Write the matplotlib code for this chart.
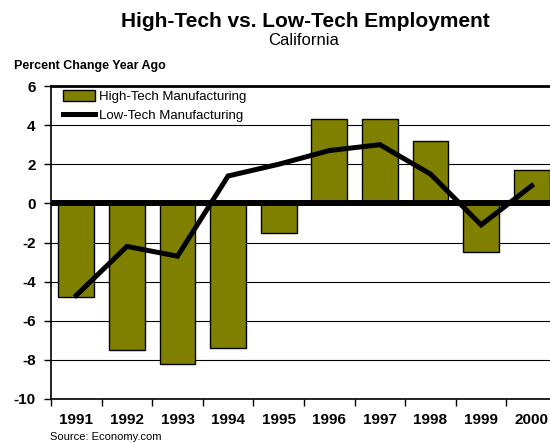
import numpy as np
import matplotlib
matplotlib.use("Agg")
import matplotlib.pyplot as plt

# dados
anos = ["1991", "1992", "1993", "1994", "1995", "1996", "1997", "1998", "1999", "2000"]
high_tech = [-4.8, -7.5, -8.2, -7.4, -1.5, 4.3, 4.3, 3.2, -2.5, 1.7]
low_tech = [-4.7, -2.2, -2.7, 1.4, 2.0, 2.7, 3.0, 1.5, -1.1, 0.9]

plt.rcParams["font.family"] = ["Liberation Sans", "DejaVu Sans"]

fig = plt.figure(figsize=(5.5, 4.43), dpi=100)
# o eixo passa um pouco da borda direita, como no original
ax = fig.add_axes([51 / 550, 1 - 399 / 443, 506 / 550, 313 / 443])

x = np.arange(len(anos))
barras = ax.bar(x, high_tech, width=0.71, color="#808000", edgecolor="black",
                linewidth=1.0, label="High-Tech Manufacturing", zorder=2)
ax.axhline(0, color="black", linewidth=4.3, zorder=3)
linha, = ax.plot(x, low_tech, color="black", linewidth=3.6, solid_joinstyle="miter",
                 label="Low-Tech Manufacturing", zorder=4)

ax.set_xlim(-0.5, len(anos) - 0.5)
ax.set_ylim(-10, 6)
ax.set_yticks(range(-10, 7, 2))
ax.set_yticklabels([str(v) for v in range(-10, 7, 2)], fontsize=11, fontweight="bold")
ax.yaxis.grid(True, color="black", linewidth=0.8, zorder=0)
ax.set_axisbelow(True)

ax.set_xticks(x)
ax.set_xticklabels(anos, fontsize=11, fontweight="bold")
ax.set_xticks(np.arange(-0.5, len(anos), 1), minor=True)
ax.tick_params(axis="x", which="major", length=0, pad=10)
ax.tick_params(axis="x", which="minor", length=5, width=1, direction="out")
ax.tick_params(axis="y", length=5, width=1, pad=6, direction="out")

for lado in ["left", "bottom"]:
    ax.spines[lado].set_linewidth(1.2)
ax.spines["top"].set_linewidth(2.0)
ax.spines["right"].set_visible(False)

ax.legend([barras, linha], ["High-Tech Manufacturing", "Low-Tech Manufacturing"],
          loc="upper left", bbox_to_anchor=(0.022, 0.99), frameon=False, fontsize=9.5,
          handlelength=2.4, handleheight=0.9, labelspacing=0.44, borderpad=0.1,
          handletextpad=0.3, borderaxespad=0.0)

fig.text(305 / 550, 1 - 27 / 443, "High-Tech vs. Low-Tech Employment",
         ha="center", va="baseline", fontsize=15, fontweight="bold")
fig.text(304 / 550, 1 - 45 / 443, "California", ha="center", va="baseline", fontsize=12)
fig.text(14 / 550, 1 - 69 / 443, "Percent Change Year Ago", ha="left", va="baseline",
         fontsize=9, fontweight="bold")
fig.text(50 / 550, 1 - 440 / 443, "Source: Economy.com", ha="left", va="baseline",
         fontsize=8)

fig.savefig("out.png", dpi=100)
